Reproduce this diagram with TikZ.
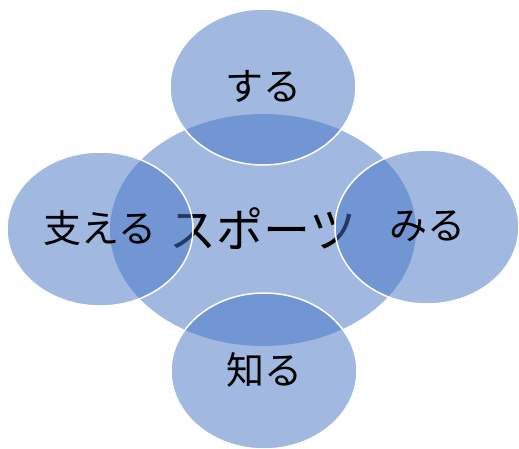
\documentclass[tikz,border=0pt]{standalone}
\usepackage{fontspec}
\newfontfamily\jpfont{Noto Sans CJK JP}
\usetikzlibrary{shapes.geometric}
\definecolor{accblue}{RGB}{68,114,196}
\newcommand{\lifttext}[1]{\raisebox{4pt}{#1}}
\tikzset{
  bubble/.style={ellipse, inner sep=0pt, fill=accblue, fill opacity=0.5, text opacity=1,
    draw=white, line width=1.5pt, draw opacity=1, text=black,
    font=\jpfont\fontsize{38}{42}\selectfont},
  hub/.style={bubble, draw=none, font=\jpfont\fontsize{47}{52}\selectfont}
}
\begin{document}
\begin{tikzpicture}[x=1pt,y=-1pt]
\useasboundingbox (0,0) rectangle (519,448);
\node[hub, minimum width=306pt, minimum height=232pt] (hub) at (263,230) {\lifttext{スポーツ}};
\node[bubble, minimum width=186pt, minimum height=156pt] (top) at (263,87) {\lifttext{する}};
\node[bubble, minimum width=186pt, minimum height=154pt] (left) at (100,229) {\lifttext{支える}};
\node[bubble, minimum width=184pt, minimum height=154pt] (right) at (427,227) {\lifttext{みる}};
\node[bubble, minimum width=186pt, minimum height=156pt] (bottom) at (264,371) {\lifttext{知る}};
\end{tikzpicture}
\end{document}
